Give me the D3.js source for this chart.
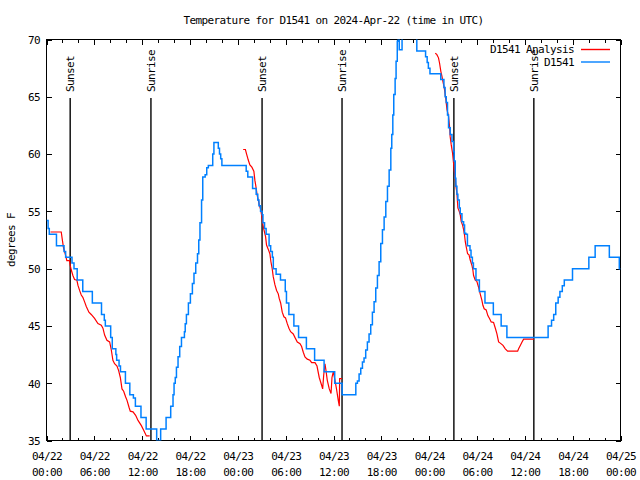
<!DOCTYPE html>
<html><head><meta charset="utf-8">
<script src="https://cdn.jsdelivr.net/npm/d3@7"></script>
<style>
body{margin:0;background:#fff;}
svg{display:block;}
text{font-family:"DejaVu Sans Mono",monospace;font-size:11px;letter-spacing:-0.62px;fill:#000;}
</style></head><body>
<svg id="chart" width="640" height="480"></svg>
<script>
// ---------- data ----------
const chartTitle = "Temperature for D1541 on 2024-Apr-22 (time in UTC)";
const yLabel = "degrees F";
const seriesNames = ["D1541 Analysis", "D1541"];
const seriesColors = ["#ff0000", "#0080ff"];
const yTicks = [35, 40, 45, 50, 55, 60, 65, 70];
const yDomain = [35, 70];
const startUTC = Date.UTC(2024, 3, 22); // 2024-04-22 00:00 UTC
const xDomainHours = [0, 72];
const sunLabels = ["Sunset", "Sunrise", "Sunset", "Sunrise", "Sunset", "Sunrise"];
const sunHours = [2.97, 13.1, 27.04, 37.07, 51.1, 61.13];

// observations [hours since start, degF]
const obsD1541 = [[0,54.2],[0.2,53.5],[0.35,53],[1.25,52],[2.2,51.5],[2.4,51],[3.2,50.5],[3.45,50],[3.85,49],[4.55,48],[5.75,47],[6.9,46],[7.25,45.5],[7.38,45],[8.05,44],[8.25,43],[8.7,42.5],[8.8,42],[9.1,41.5],[9.28,41],[9.9,40],[10.45,39],[10.9,38.7],[11.15,38],[11.85,37],[12.5,36],[13.82,35],[14.32,36],[15.0,37],[15.58,38],[15.87,39],[16.0,40],[16.15,40.5],[16.3,41.4],[16.5,42.3],[16.71,43.2],[16.93,44],[17.3,44.5],[17.4,45.2],[17.55,46],[17.8,47],[18.05,47.8],[18.3,48.7],[18.5,49.6],[18.72,50.5],[18.94,51.3],[19.1,52.5],[19.25,54],[19.45,56],[19.6,58],[19.9,58.2],[20.1,58.8],[20.3,59],[20.85,60],[21.0,61],[21.55,60.5],[21.7,60],[21.85,59.6],[22.0,59],[25.05,58.5],[25.25,58],[25.85,57],[26.3,56.5],[26.5,56],[26.65,55.5],[26.85,55],[27.05,54.7],[27.15,54],[27.35,53.5],[27.55,53],[27.92,52],[28.12,51.5],[28.33,51],[28.45,50],[28.8,49.5],[29.35,49],[29.95,48],[30.1,47],[30.4,46],[31.03,45],[31.62,44],[32.6,43],[33.63,42],[34.82,41],[36.15,40],[37.08,39],[38.8,40],[39.0,40.2],[39.21,40.8],[39.42,41.3],[39.63,41.85],[39.83,42.2],[40.04,42.9],[40.25,43.6],[40.46,44.3],[40.67,45.1],[40.88,46.2],[41.09,47.1],[41.3,48.3],[41.51,49.4],[41.72,50.6],[41.93,52.2],[42.14,53.4],[42.35,54.5],[42.56,55.85],[42.77,57.2],[42.98,58.6],[43.19,60.5],[43.31,61.7],[43.44,63.4],[43.56,65.2],[43.73,66.6],[43.85,68.1],[44.0,69.85],[44.1,71],[44.25,69.1],[44.6,71.5],[46.45,69],[47.55,68.5],[47.75,68],[47.9,67.5],[48.1,67],[49.45,66.5],[49.85,65.8],[50.0,65],[50.14,64.5],[50.3,63.4],[50.43,62.3],[50.64,61.7],[50.86,61.1],[51.06,60.2],[51.14,59.4],[51.27,57.9],[51.35,57.2],[51.48,56.5],[51.6,56],[51.78,55.3],[51.9,54.8],[52.11,54.1],[52.32,53.8],[52.44,53.1],[52.6,53],[52.8,52],[53.12,51.6],[53.25,51],[53.42,50.5],[53.55,50],[53.87,49],[54.3,48],[55.0,47],[56.05,46],[57.03,45],[57.75,44],[62.92,45],[63.35,45.5],[63.62,46],[63.88,47],[64.18,47.5],[64.4,48],[64.7,48.5],[64.95,49],[65.98,50],[68.03,51],[68.82,52],[70.6,51],[71.85,50],[72,50]];

// analysis segments [hours since start, degF]
const analysisDay1 = [[0.5,53.2],[1.85,53.2],[1.97,52.6],[2.14,51.8],[2.35,51.3],[2.55,50.7],[2.89,50.7],[2.97,50.3],[3.1,49.9],[3.31,49.4],[3.52,49.05],[3.81,49],[3.94,48.56],[4.15,48.1],[4.36,47.7],[4.56,47.5],[4.78,47.1],[4.99,46.7],[5.32,46.2],[5.61,46.0],[6.03,45.65],[6.45,45.2],[6.87,45.06],[7.08,44.8],[7.29,44.2],[7.58,43.75],[7.92,43.6],[8.13,42.9],[8.33,42.0],[8.54,41.7],[8.84,41.5],[9.05,41.1],[9.26,40.5],[9.47,39.5],[9.68,39.3],[9.93,38.8],[10.1,38.5],[10.35,37.9],[10.51,37.56],[10.85,37.5],[11.18,37.2],[11.48,36.75],[11.9,36.3],[12.19,35.9],[12.53,35.4],[12.94,35.4]];
const analysisDay2 = [[24.67,60.4],[24.95,60.4],[25.1,60.0],[25.3,59.5],[25.51,59.06],[25.76,58.86],[26.01,58.5],[26.14,57.7],[26.26,57.2],[26.43,56.4],[26.56,56],[26.68,55.6],[26.85,55.2],[27.0,54.6],[27.1,54.0],[27.27,53.4],[27.48,52.8],[27.6,52.06],[27.81,51.7],[28.02,51.3],[28.15,50.6],[28.31,50.0],[28.44,49.3],[28.65,48.6],[28.86,48.1],[29.07,47.8],[29.19,47.4],[29.37,47],[29.57,46.2],[29.78,45.8],[29.98,45.7],[30.2,45.2],[30.41,44.8],[30.62,44.5],[30.95,44.3],[31.16,44],[31.46,43.6],[31.8,43.45],[32.0,43.2],[32.21,42.7],[32.42,42.3],[32.71,42.1],[33.05,42],[33.26,41.8],[33.68,41.8],[33.93,41.5],[34.21,40.5],[34.52,39.8],[34.64,39.5],[34.77,40.7],[34.93,41.7],[35.06,41.1],[35.22,40.25],[35.47,39.5],[35.69,39.1],[35.81,40.5],[35.98,41.0],[36.19,40.25],[36.4,39.4],[36.6,38.5],[36.73,38.0],[36.77,40.4],[37.07,40.4]];
const analysisDay3 = [[48.76,68.8],[48.95,68.7],[49.17,68.4],[49.3,67.95],[49.47,67.2],[49.6,66.8],[49.72,66.35],[49.89,65.8],[50.1,64.75],[50.23,63.9],[50.43,63.3],[50.56,62.4],[50.64,61.5],[50.77,60.8],[50.93,60.1],[51.06,59.2],[51.14,58.6],[51.27,57.9],[51.35,57.2],[51.48,56.6],[51.6,55.3],[51.77,55.0],[51.9,54.7],[52.02,54.1],[52.19,53.8],[52.32,53.4],[52.44,52.9],[52.53,52.35],[52.65,51.9],[52.82,51.3],[53.0,51.2],[53.15,50.75],[53.36,50.3],[53.48,49.9],[53.57,49.4],[53.78,49],[53.98,48.9],[54.19,48.4],[54.4,47.8],[54.61,47.25],[54.74,46.8],[54.9,46.5],[55.15,46.4],[55.36,45.9],[55.57,45.65],[55.78,45.35],[56.08,45.3],[56.3,44.8],[56.5,44.3],[56.71,43.6],[56.92,43.5],[57.26,43.3],[57.55,43.0],[57.84,42.8],[59.1,42.8],[59.22,43.0],[59.43,43.3],[59.65,43.6],[59.85,43.85],[61.15,43.85]];

// ---------- drawing ----------
const toDate = h => new Date(startUTC + h * 3600e3);
const L = 46.5, R = 620.5, T = 39.5, B = 440.5;
const svg = d3.select("#chart");
const x = d3.scaleUtc().domain(xDomainHours.map(toDate)).range([L, R]);
const y = d3.scaleLinear().domain(yDomain).range([B, T]);

svg.append("defs").append("clipPath").attr("id", "plotclip")
  .append("rect").attr("x", L).attr("y", T).attr("width", R - L).attr("height", B - T);

function styleAxis(g) {
  g.select(".domain").remove();
  g.selectAll(".tick line").attr("stroke", "#000").attr("shape-rendering", "crispEdges");
  g.attr("font-family", null).attr("font-size", null);
}
// minor x ticks (2h)
svg.append("g").attr("transform", `translate(0,${B})`)
  .call(d3.axisBottom(x).ticks(d3.utcHour.every(2)).tickSize(-3).tickFormat("")).call(styleAxis);
svg.append("g").attr("transform", `translate(0,${T})`)
  .call(d3.axisTop(x).ticks(d3.utcHour.every(2)).tickSize(-3).tickFormat("")).call(styleAxis);
// major x ticks (6h)
const fmtDay = d3.utcFormat("%m/%d"), fmtHour = d3.utcFormat("%H:%M");
const xb = svg.append("g").attr("transform", `translate(0,${B})`)
  .call(d3.axisBottom(x).ticks(d3.utcHour.every(6)).tickSize(-5).tickFormat("")).call(styleAxis);
xb.selectAll(".tick text").remove();
const lab = xb.selectAll(".tick").append("text").attr("text-anchor", "middle");
lab.append("tspan").attr("x", 0).attr("y", 19).text(d => fmtDay(d));
lab.append("tspan").attr("x", 0).attr("y", 35).text(d => fmtHour(d));
svg.append("g").attr("transform", `translate(0,${T})`)
  .call(d3.axisTop(x).ticks(d3.utcHour.every(6)).tickSize(-5).tickFormat("")).call(styleAxis);
// y ticks
const yl = svg.append("g").attr("transform", `translate(${L},0)`)
  .call(d3.axisLeft(y).tickValues(yTicks).tickSize(-5).tickPadding(6.5)).call(styleAxis);
yl.selectAll(".tick text").attr("fill", "#000").attr("dy", "0.35em");
svg.append("g").attr("transform", `translate(${R},0)`)
  .call(d3.axisRight(y).tickValues(yTicks).tickSize(-5).tickFormat("")).call(styleAxis);

// border
svg.append("rect").attr("x", L).attr("y", T).attr("width", R - L).attr("height", B - T)
  .attr("fill", "none").attr("stroke", "#000").attr("shape-rendering", "crispEdges");

// sun lines
const sun = svg.append("g");
sunHours.forEach((h, i) => {
  const sx = x(toDate(h));
  sun.append("line").attr("x1", sx).attr("x2", sx).attr("y1", 98).attr("y2", B)
    .attr("stroke", "#000").attr("stroke-width", 1.4);
  sun.append("text").attr("transform", `translate(${sx},92) rotate(-90)`)
    .attr("dy", "0.35em").attr("text-anchor", "start").text(sunLabels[i]);
});

// data lines
const plot = svg.append("g").attr("clip-path", "url(#plotclip)");
const lineLin = d3.line().x(d => x(toDate(d[0]))).y(d => y(d[1]));
const lineStep = d3.line().x(d => x(toDate(d[0]))).y(d => y(d[1])).curve(d3.curveStepAfter);
[analysisDay1, analysisDay2, analysisDay3].forEach(seg => {
  plot.append("path").datum(seg).attr("d", lineLin).attr("fill", "none")
    .attr("stroke", seriesColors[0]).attr("stroke-width", 1.2);
});
plot.append("path").datum(obsD1541).attr("d", lineStep).attr("fill", "none")
  .attr("stroke", seriesColors[1]).attr("stroke-width", 1.5);

// legend
const leg = svg.append("g");
seriesNames.forEach((n, i) => {
  const ly = 49.5 + i * 12.5;
  leg.append("text").attr("x", 574).attr("y", ly).attr("dy", "0.35em")
    .attr("text-anchor", "end").text(n);
  leg.append("line").attr("x1", 581).attr("x2", 610).attr("y1", ly).attr("y2", ly)
    .attr("stroke", seriesColors[i]).attr("stroke-width", 1.4);
});

// title & y label
svg.append("text").attr("x", (L + R) / 2).attr("y", 24).attr("text-anchor", "middle").text(chartTitle);
svg.append("text").attr("transform", `translate(11,${(T + B) / 2}) rotate(-90)`)
  .attr("dy", "0.35em").attr("text-anchor", "middle").text(yLabel);
</script>
</body></html>
